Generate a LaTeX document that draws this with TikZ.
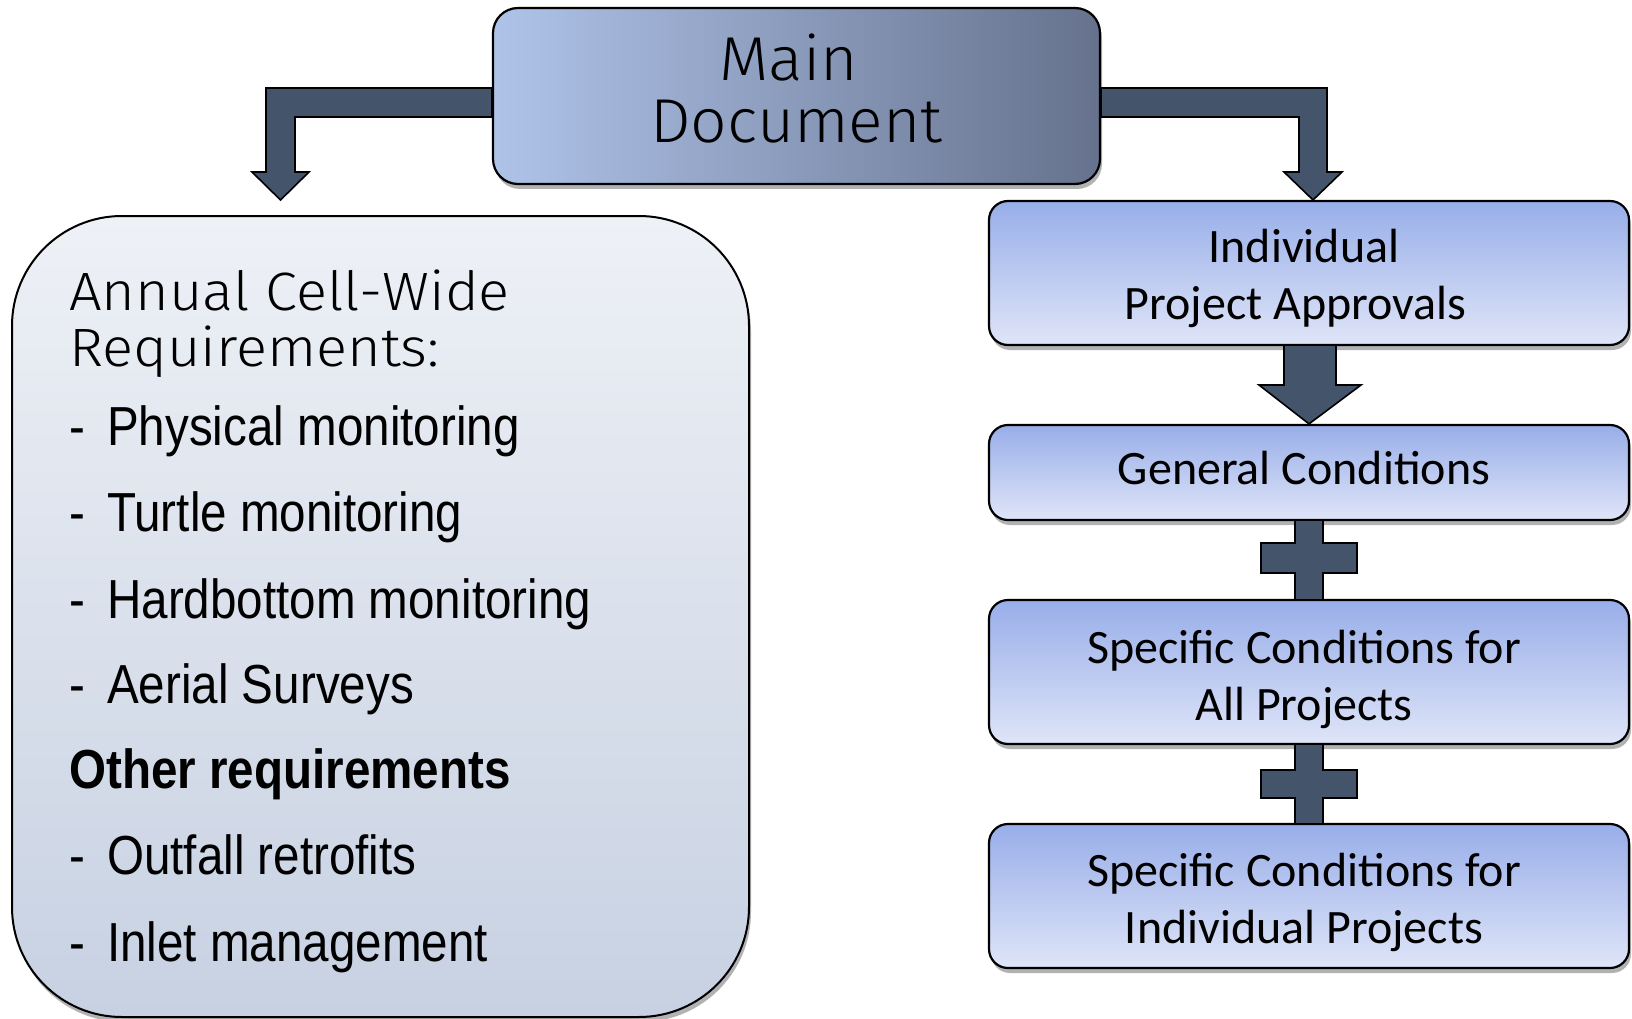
\documentclass[tikz,border=0pt]{standalone}
\usepackage{fontspec}
\setmainfont{Carlito}
\newfontfamily\narrowfont[FakeStretch=0.865]{Liberation Sans}
\IfFontExistsTF{Fira Sans Light}{%
  \newfontfamily\twmain[FakeStretch=1.035]{Fira Sans Light}%
  \newfontfamily\twtitle[FakeStretch=1.07]{Fira Sans Light}}{%
  \newfontfamily\twmain[FakeStretch=1.035]{Fira Sans}%
  \newfontfamily\twtitle[FakeStretch=1.07]{Fira Sans}}
\usetikzlibrary{shadows}
\definecolor{arrowfill}{HTML}{44546A}
\definecolor{mainL}{HTML}{AFC3E9}
\definecolor{mainR}{HTML}{66728D}
\definecolor{rtop}{HTML}{98AEE9}
\definecolor{rbot}{HTML}{DFE5F8}
\definecolor{ltop}{HTML}{EEF1F6}
\definecolor{lbot}{HTML}{C7D1E2}
\tikzset{
  myshadow/.style={drop shadow={shadow xshift=2pt,shadow yshift=-5pt,opacity=0.3,fill=black}},
  mainbox/.style={draw=black,line width=2.2pt,rounded corners=25pt,left color=mainL,right color=mainR,
    myshadow,inner sep=0pt},
  maintext/.style={align=center,font=\twmain\fontsize{62}{62}\selectfont,inner sep=0pt},
  rbox/.style={draw=black,line width=2.2pt,rounded corners=19pt,top color=rtop,bottom color=rbot,
    myshadow,inner sep=0pt,minimum width=640pt},
  rtext/.style={align=center,font=\fontsize{48}{57}\selectfont,inner sep=0pt},
  lbox/.style={draw=black,line width=2pt,rounded corners=110pt,top color=ltop,bottom color=lbot,
    myshadow,inner sep=0pt},
  ltitle/.style={anchor=base west,inner sep=0pt,font=\twtitle\fontsize{54}{56}\selectfont},
  litem/.style={anchor=base west,inner sep=0pt,font=\narrowfont\fontsize{55}{60}\selectfont},
  lbold/.style={anchor=base west,inner sep=0pt,font=\narrowfont\bfseries\fontsize{55}{60}\selectfont},
  bigarrow/.style={fill=arrowfill,draw=black,line width=1.6pt,line join=miter},
}
\begin{document}
\begin{tikzpicture}[x=1pt,y=-1pt]
\useasboundingbox (0,0) rectangle (1632,1019);

% left big box
\node[lbox,minimum width=737pt,minimum height=801pt] (lb) at (380.5,616.5) {};

% main box
\node[mainbox,minimum width=607pt,minimum height=176pt] (main) at (796.5,96) {};
\node[maintext] (mt) at ([yshift=8pt]main.center) {Main\hspace*{16pt}\\Document};

% right boxes
\node[rbox,minimum height=144pt] (b1) at (1309,273) {};
\node[rbox,minimum height=95pt] (b2) at (1309,472.5) {};
\node[rbox,minimum height=144pt] (b3) at (1309,672) {};
\node[rbox,minimum height=144pt] (b4) at (1309,896) {};
\node[rtext] (b1t) at ([xshift=-5pt,yshift=-5pt]b1.center) {Individual\\Project Approvals\hspace*{17pt}};
\node[rtext] (b2t) at ([xshift=-5pt,yshift=4pt]b2.center) {General Conditions};
\node[rtext] (b3t) at ([xshift=-5pt,yshift=-7pt]b3.center) {Specific Conditions for\\All Projects};
\node[rtext] (b4t) at ([xshift=-5pt,yshift=-6pt]b4.center) {Specific Conditions for\\Individual Projects};

% left box text
\node[ltitle] (t1) at (69,310) {Annual Cell-Wide};
\node[ltitle] (t2) at (69,366) {Requirements:};
\node[litem] (d1) at (69,445) {-};
\node[litem] (i1) at (107,445) {Physical monitoring};
\node[litem] (d2) at (69,531) {-};
\node[litem] (i2) at (107,531) {Turtle monitoring};
\node[litem] (d3) at (69,618) {-};
\node[litem] (i3) at (107,618) {Hardbottom monitoring};
\node[litem] (d4) at (69,703) {-};
\node[litem] (i4) at (107,703) {Aerial Surveys};
\node[lbold] (o1) at (69,788) {Other requirements};
\node[litem] (d5) at (69,874) {-};
\node[litem] (i5) at (107,874) {Outfall retrofits};
\node[litem] (d6) at (69,961) {-};
\node[litem] (i6) at (107,961) {Inlet management};

% elbow arrows from main box
\coordinate (tipL) at (280.5,200);
\coordinate (tipR) at (1313,200);
\draw[bigarrow] (main.west |- 0,88) -- (266,88) -- (266,172) -- (252,172) -- (tipL)
  -- (309,172) -- (295,172) -- (295,117) -- (main.west |- 0,117) -- cycle;
\draw[bigarrow] (main.east |- 0,88) -- (1327,88) -- (1327,172) -- (1342,172) -- (tipR)
  -- (1284,172) -- (1299,172) -- (1299,117) -- (main.east |- 0,117) -- cycle;

% down arrow b1 -> b2
\draw[bigarrow] (1284,345) -- (1284,385) -- (1259,385) -- (b2.north) -- (1361,385)
  -- (1336,385) -- (1336,345) -- cycle;

% plus b2 - b3
\draw[bigarrow] (1295,520) -- (1295,543) -- (1261,543) -- (1261,573) -- (1295,573) -- (1295,600)
  -- (1323,600) -- (1323,573) -- (1357,573) -- (1357,543) -- (1323,543) -- (1323,520) -- cycle;
% plus b3 - b4
\draw[bigarrow] (1295,744) -- (1295,770) -- (1261,770) -- (1261,798) -- (1295,798) -- (1295,824)
  -- (1323,824) -- (1323,798) -- (1357,798) -- (1357,770) -- (1323,770) -- (1323,744) -- cycle;
\end{tikzpicture}
\end{document}
